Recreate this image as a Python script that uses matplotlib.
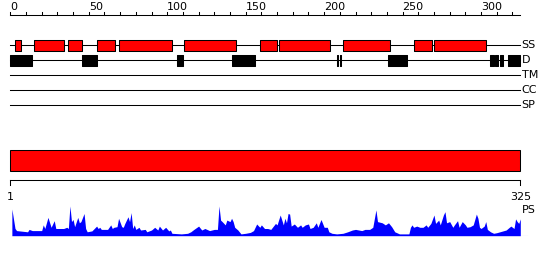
import matplotlib
matplotlib.use("Agg")
import matplotlib.pyplot as plt
from matplotlib.patches import Rectangle

# sequence / feature data
seq_len = 325
ruler_ticks = list(range(0, 321, 10))
ruler_labels = [0, 50, 100, 150, 200, 250, 300]

ss_segments = [(3, 7), (15, 34), (37, 46), (55, 67), (69, 103), (111, 144),
               (159, 170), (171, 204), (212, 242), (257, 269), (270, 303)]
dis_segments = [(0, 14), (46, 55), (106, 110), (141, 156), (208, 209), (210, 211),
                (241, 253), (306, 308), (309, 311), (312, 314), (317, 325)]
track_names = ["SS", "D", "TM", "CC", "SP"]

ps_pos = [1, 3, 4, 11, 12, 14, 20, 21, 22, 24, 26, 28, 29, 31, 34, 36, 37, 38, 39, 40,
          41, 43, 44, 45, 47, 48, 49, 52, 55, 56, 57, 58, 60, 62, 64, 65, 66, 68, 69, 71,
          72, 73, 75, 76, 77, 78, 79, 80, 82, 83, 86, 87, 90, 92, 94, 95, 97, 99, 101, 102,
          103, 109, 113, 115, 117, 120, 122, 124, 127, 130, 132, 133, 134, 135, 137, 138, 140, 141, 142, 143,
          145, 147, 150, 153, 155, 157, 159, 160, 162, 164, 166, 169, 170, 172, 174, 175, 176, 177, 178, 179,
          181, 183, 185, 186, 188, 190, 191, 193, 195, 196, 198, 200, 202, 203, 205, 208, 212, 215, 218, 220,
          222, 224, 226, 229, 231, 233, 234, 237, 239, 241, 243, 245, 248, 254, 255, 256, 257, 259, 261, 263,
          265, 266, 268, 270, 271, 273, 274, 276, 277, 278, 280, 282, 283, 285, 286, 288, 290, 291, 293, 295,
          297, 298, 299, 300, 302, 303, 304, 306, 308, 310, 312, 314, 316, 318, 319, 321, 322, 323, 324, 325]
ps_val = [0.89, 0.24, 0.17, 0.13, 0.21, 0.17, 0.17, 0.36, 0.24, 0.61, 0.28, 0.50, 0.24, 0.24, 0.24, 0.28, 0.24, 0.99, 0.47, 0.54,
          0.30, 0.61, 0.43, 0.47, 0.74, 0.24, 0.13, 0.16, 0.32, 0.24, 0.28, 0.21, 0.21, 0.21, 0.36, 0.24, 0.28, 0.30, 0.58, 0.30,
          0.28, 0.41, 0.63, 0.47, 0.77, 0.24, 0.36, 0.21, 0.28, 0.19, 0.21, 0.13, 0.19, 0.28, 0.19, 0.32, 0.19, 0.28, 0.16, 0.19,
          0.08, 0.06, 0.08, 0.13, 0.21, 0.32, 0.19, 0.24, 0.17, 0.21, 0.21, 0.99, 0.52, 0.47, 0.36, 0.52, 0.47, 0.58, 0.47, 0.28,
          0.19, 0.06, 0.08, 0.11, 0.17, 0.39, 0.28, 0.36, 0.24, 0.24, 0.21, 0.41, 0.36, 0.69, 0.36, 0.58, 0.43, 0.74, 0.72, 0.32,
          0.39, 0.28, 0.36, 0.28, 0.36, 0.39, 0.24, 0.28, 0.43, 0.28, 0.54, 0.28, 0.28, 0.13, 0.08, 0.06, 0.08, 0.13, 0.19, 0.21,
          0.19, 0.17, 0.21, 0.21, 0.28, 0.86, 0.47, 0.43, 0.36, 0.43, 0.30, 0.13, 0.06, 0.06, 0.28, 0.36, 0.28, 0.32, 0.28, 0.28,
          0.36, 0.28, 0.41, 0.69, 0.41, 0.52, 0.36, 0.69, 0.80, 0.43, 0.47, 0.28, 0.36, 0.50, 0.28, 0.47, 0.36, 0.28, 0.30, 0.36,
          0.72, 0.58, 0.28, 0.24, 0.32, 0.47, 0.21, 0.13, 0.08, 0.10, 0.13, 0.16, 0.19, 0.28, 0.32, 0.24, 0.56, 0.47, 0.41, 0.56]

# layout (figure pixels)
W, H = 550, 260
x0_px = 10.3
px_per_res = 510.0 / seq_len
lw = 0.75
fs = 8

plt.rcParams["font.family"] = "DejaVu Sans"

fig = plt.figure(figsize=(W / 100, H / 100), dpi=100)
ax = fig.add_axes([0, 0, 1, 1])
xlim = (-x0_px / px_per_res, (W - x0_px) / px_per_res)
ax.set_xlim(*xlim)
ax.set_ylim(H, 0)
ax.axis("off")

# top ruler
ax.plot([0, seq_len], [15, 15], color="black", lw=lw)
for t in ruler_ticks:
    ax.plot([t, t], [11.5, 15], color="black", lw=lw)
for t in ruler_labels:
    ax.text(t, 10.5, str(t), ha="left", va="baseline", fontsize=fs)

# feature tracks
track_y = [45, 60, 75, 90, 105]
for name, y in zip(track_names, track_y):
    ax.plot([0, seq_len], [y, y], color="black", lw=lw, zorder=1)
    ax.text(seq_len + 0.8, y, name, ha="left", va="center", fontsize=fs)

ax.broken_barh([(s, e - s) for s, e in ss_segments], (40, 10.5),
               facecolors="#ff0000", edgecolors="black", linewidth=lw, zorder=2)
ax.broken_barh([(s, e - s) for s, e in dis_segments], (55, 10.5),
               facecolors="black", edgecolors="black", linewidth=lw, zorder=2)

# full-length bar
ax.add_patch(Rectangle((0, 150), seq_len, 20.5, facecolor="#ff0000",
                       edgecolor="black", linewidth=lw))

# bottom ruler
ax.plot([0, seq_len], [180, 180], color="black", lw=lw)
ax.plot([0, 0], [180, 184.5], color="black", lw=lw)
ax.plot([seq_len, seq_len], [180, 184.5], color="black", lw=lw)
ax.text(0, 199.5, "1", ha="center", va="baseline", fontsize=fs)
ax.text(seq_len, 199.5, str(seq_len), ha="center", va="baseline", fontsize=fs)
ax.text(seq_len + 1, 210, "PS", ha="left", va="center", fontsize=fs)

# PS profile
base_px = 235.7
ax2 = fig.add_axes([0, (H - base_px) / H, 1, 30 / H])
ax2.set_xlim(*xlim)
ax2.set_ylim(0, 1)
ax2.axis("off")
ax2.fill_between(ps_pos, ps_val, 0, color="#0000ff", lw=0)
ax2.plot([ps_pos[0], seq_len + 4.5], [0, 0], color="#0000ff", lw=lw)

fig.savefig("out.png", dpi=100)
